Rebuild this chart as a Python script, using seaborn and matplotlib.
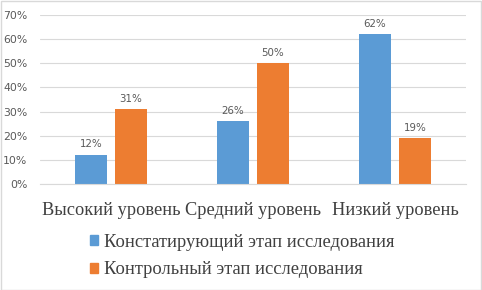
import matplotlib
matplotlib.use("Agg")
import matplotlib.pyplot as plt
import seaborn as sns
import pandas as pd
from matplotlib.patches import Rectangle
from matplotlib.ticker import FuncFormatter

categories = ["Высокий уровень", "Средний уровень", "Низкий уровень"]
series_names = ["Констатирующий этап исследования", "Контрольный этап исследования"]
stage1 = [12, 26, 62]
stage2 = [31, 50, 19]
colors = ["#5B9BD5", "#ED7D31"]
yticks = [0, 10, 20, 30, 40, 50, 60, 70]

df = pd.DataFrame({
    "cat": categories * 2,
    "series": [series_names[0]] * 3 + [series_names[1]] * 3,
    "val": stage1 + stage2,
})

sns.set_theme(style="white")
W, H = 482, 290
fig = plt.figure(figsize=(W / 100, H / 100), dpi=100)
ax = fig.add_axes([40 / W, (H - 184) / H, 426 / W, 169 / H])

sns.barplot(data=df, x="cat", y="val", hue="series", palette=colors,
            width=0.565, gap=0.22, ax=ax, legend=False, saturation=1,
            edgecolor="none")

ax.set_ylim(0, 70)
ax.set_xlim(-0.5, 2.5)
ax.set_yticks(yticks)
ax.yaxis.set_major_formatter(FuncFormatter(lambda v, p: f"{int(v)}%"))
ax.grid(axis="y", color="#D9D9D9", linewidth=0.8)
ax.set_axisbelow(True)
for s in ["top", "right", "left"]:
    ax.spines[s].set_visible(False)
ax.spines["bottom"].set_color("#D9D9D9")
ax.spines["bottom"].set_linewidth(0.8)
ax.set_xlabel("")
ax.set_ylabel("")
ax.tick_params(axis="y", length=0, pad=9, labelsize=7.8, labelcolor="#595959")
ax.tick_params(axis="x", length=0, pad=13)
for lbl in ax.get_xticklabels():
    lbl.set_family("Liberation Serif")
    lbl.set_fontsize(13.2)
    lbl.set_color("#404040")

for cont in ax.containers:
    ax.bar_label(cont, labels=[f"{int(round(b.get_height()))}%" for b in cont],
                 padding=4, fontsize=7.4, color="#595959")

handles = [Rectangle((0, 0), 1, 1, color=c) for c in colors]
fig.legend(handles, series_names, loc="upper left",
           bbox_to_anchor=(90 / W, 1 - 234 / H), frameon=False,
           prop={"family": "Liberation Serif", "size": 13.3},
           labelcolor="#404040", handlelength=0.45, handleheight=0.45,
           handletextpad=0.3, labelspacing=0.55, borderpad=0, borderaxespad=0)

fig.patches.append(Rectangle((0.5 / W, 0.5 / H), 1 - 1.5 / W, 1 - 1.5 / H,
                             transform=fig.transFigure, fill=False,
                             edgecolor="#D9D9D9", linewidth=1))
fig.savefig("out.png", dpi=100)
